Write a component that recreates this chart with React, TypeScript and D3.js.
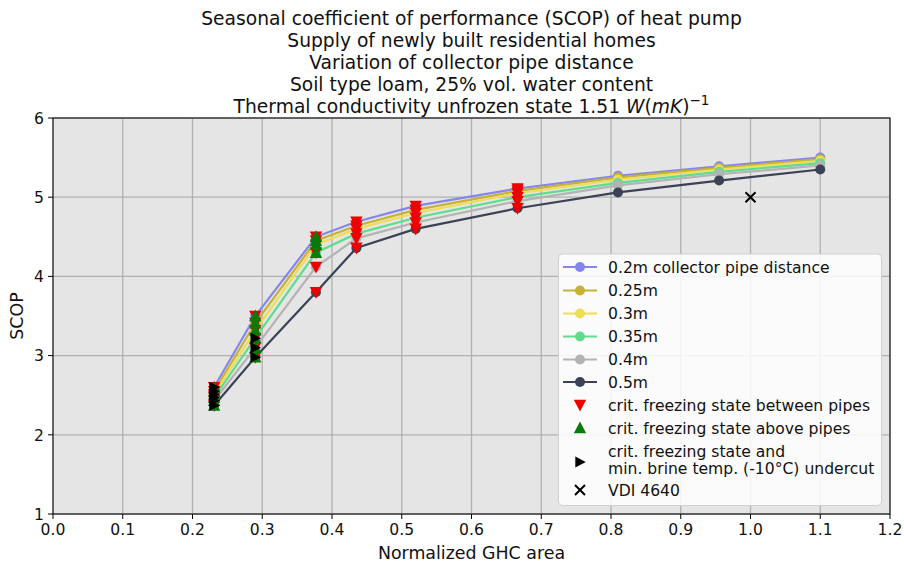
import React from "react";
import * as d3 from "d3";

const xValues = [0.231, 0.29, 0.377, 0.435, 0.52, 0.666, 0.81, 0.955, 1.1];
const seriesNames = ["0.2m collector pipe distance", "0.25m", "0.3m", "0.35m", "0.4m", "0.5m"];
const seriesColors = ["#8585ee", "#c6b234", "#eedd55", "#5fdc8e", "#b3b3b3", "#3b4256"];
const scop02 = [2.6, 3.5, 4.5, 4.69, 4.89, 5.11, 5.27, 5.39, 5.5];
const scop025 = [2.55, 3.41, 4.45, 4.64, 4.84, 5.08, 5.25, 5.37, 5.48];
const scop03 = [2.51, 3.32, 4.4, 4.6, 4.8, 5.05, 5.22, 5.35, 5.46];
const scop035 = [2.47, 3.22, 4.3, 4.54, 4.74, 5.0, 5.18, 5.32, 5.43];
const scop04 = [2.43, 3.1, 4.12, 4.48, 4.68, 4.95, 5.15, 5.29, 5.4];
const scop05 = [2.37, 2.98, 3.8, 4.36, 4.6, 4.86, 5.06, 5.21, 5.35];
const seriesValues = [scop02, scop025, scop03, scop035, scop04, scop05];
// indices (into xValues) where critical markers apply, per series
const critBetween = [
  [0, 1, 2, 3, 4, 5],
  [0, 1, 2, 3, 4, 5],
  [0, 1, 2, 3, 4, 5],
  [0, 1, 2, 3, 4, 5],
  [0, 1, 2, 3, 4, 5],
  [0, 1, 2, 3, 4, 5],
];
const critAbove = [[0, 1, 2], [0, 1, 2], [0, 1, 2], [0, 1, 2], [0, 1], [0, 1]];
const critBrine = [[0], [0], [0], [0, 1], [0, 1], [0, 1]];
const vdiX = [1.0];
const vdiY = [5.0];
const xTicks = [0, 0.1, 0.2, 0.3, 0.4, 0.5, 0.6, 0.7, 0.8, 0.9, 1.0, 1.1, 1.2];
const yTicks = [1, 2, 3, 4, 5, 6];
const titleLines = [
  "Seasonal coefficient of performance (SCOP) of heat pump",
  "Supply of newly built residential homes",
  "Variation of collector pipe distance",
  "Soil type loam, 25% vol. water content",
];

const W = 904, H = 565;
const left = 53, right = 890, top = 118, bottom = 514;
const font = "DejaVu Sans, sans-serif";

const triDown = (s: number) => `M${-s},${-s * 0.85}L${s},${-s * 0.85}L0,${s * 1.05}Z`;
const triUp = (s: number) => `M${-s},${s * 0.85}L${s},${s * 0.85}L0,${-s * 1.05}Z`;
const triRight = (s: number) => `M${-s * 0.85},${-s}L${-s * 0.85},${s}L${s * 1.05},0Z`;
const cross = (s: number) => `M${-s},${-s}L${s},${s}M${-s},${s}L${s},${-s}`;

export default function App() {
  const x = d3.scaleLinear().domain([0, 1.2]).range([left, right]);
  const y = d3.scaleLinear().domain([1, 6]).range([bottom, top]);
  const line = d3
    .line<[number, number]>()
    .x((d) => x(d[0]))
    .y((d) => y(d[1]));

  const legendRows = [267, 290.5, 313.5, 336.5, 359.5, 382, 405, 428];
  const lx = 580;
  const tx = 608;
  const fs = 15.6;

  return (
    <svg
      width={W}
      height={H}
      style={{ position: "absolute", left: 0, top: 0, background: "#fff" }}
      fontFamily={font}
    >
      {/* title */}
      <g textAnchor="middle" fontSize={18.7} fill="#111">
        {titleLines.map((t, i) => (
          <text key={i} x={(left + right) / 2} y={24.5 + i * 22}>
            {t}
          </text>
        ))}
        <text x={(left + right) / 2} y={24.5 + 4 * 22}>
          <tspan>Thermal conductivity unfrozen state 1.51 </tspan>
          <tspan fontStyle="italic">W</tspan>
          <tspan>(</tspan>
          <tspan fontStyle="italic">mK</tspan>
          <tspan>)</tspan>
          <tspan dy={-8} fontSize={13.5}>−1</tspan>
        </text>
      </g>

      {/* plot bg */}
      <rect x={left} y={top} width={right - left} height={bottom - top} fill="#e5e5e5" />
      {/* grid */}
      <g stroke="#b0b0b0" strokeWidth={1.3}>
        {xTicks.map((t) => (
          <line key={"gx" + t} x1={x(t)} x2={x(t)} y1={top} y2={bottom} />
        ))}
        {yTicks.map((t) => (
          <line key={"gy" + t} x1={left} x2={right} y1={y(t)} y2={y(t)} />
        ))}
      </g>

      {/* lines */}
      <g fill="none" strokeWidth={2.2}>
        {seriesValues.map((vals, si) => (
          <path
            key={"l" + si}
            d={line(xValues.map((xv, i) => [xv, vals[i]]) as [number, number][]) || ""}
            stroke={seriesColors[si]}
          />
        ))}
      </g>
      {/* circle markers */}
      <g>
        {seriesValues.map((vals, si) =>
          vals.map((v, i) => (
            <circle key={`c${si}-${i}`} cx={x(xValues[i])} cy={y(v)} r={5} fill={seriesColors[si]} />
          ))
        )}
      </g>
      {/* critical markers */}
      <g fill="#ee0000">
        {critBetween.map((idx, si) =>
          idx.map((i) => (
            <path
              key={`rb${si}-${i}`}
              d={triDown(6.2)}
              transform={`translate(${x(xValues[i])},${y(seriesValues[si][i])})`}
            />
          ))
        )}
      </g>
      <g fill="#0a7a0a">
        {critAbove.map((idx, si) =>
          idx.map((i) => (
            <path
              key={`ga${si}-${i}`}
              d={triUp(6.2)}
              transform={`translate(${x(xValues[i])},${y(seriesValues[si][i])})`}
            />
          ))
        )}
      </g>
      <g fill="#000">
        {critBrine.map((idx, si) =>
          idx.map((i) => (
            <path
              key={`br${si}-${i}`}
              d={triRight(5.5)}
              transform={`translate(${x(xValues[i])},${y(seriesValues[si][i])})`}
            />
          ))
        )}
      </g>
      {/* VDI */}
      <g stroke="#000" strokeWidth={2}>
        {vdiX.map((v, i) => (
          <path key={"v" + i} d={cross(5)} transform={`translate(${x(v)},${y(vdiY[i])})`} />
        ))}
      </g>

      {/* axes spines */}
      <rect x={left} y={top} width={right - left} height={bottom - top} fill="none" stroke="#000" strokeWidth={1} />
      {/* ticks */}
      <g stroke="#000" strokeWidth={1}>
        {xTicks.map((t) => (
          <line key={"tx" + t} x1={x(t)} x2={x(t)} y1={bottom} y2={bottom + 5} />
        ))}
        {yTicks.map((t) => (
          <line key={"ty" + t} x1={left - 5} x2={left} y1={y(t)} y2={y(t)} />
        ))}
      </g>
      <g fontSize={fs} fill="#111">
        {xTicks.map((t) => (
          <text key={"lx" + t} x={x(t)} y={bottom + 20.5} textAnchor="middle">
            {d3.format(".1f")(t)}
          </text>
        ))}
        {yTicks.map((t) => (
          <text key={"ly" + t} x={left - 9} y={y(t) + 5.7} textAnchor="end">
            {t}
          </text>
        ))}
      </g>
      <g fontSize={17.4} fill="#111">
        <text x={(left + right) / 2} y={559} textAnchor="middle">
          Normalized GHC area
        </text>
        <text transform={`translate(23,${(top + bottom) / 2}) rotate(-90)`} textAnchor="middle">
          SCOP
        </text>
      </g>

      {/* legend */}
      <rect x={558.5} y={254} width={323} height={251.5} rx={4} fill="#ffffff" fillOpacity={0.85} stroke="#cfcfcf" />
      <g fontSize={fs} fill="#111">
        {seriesNames.map((n, i) => (
          <g key={"lg" + i}>
            <line x1={lx - 17} x2={lx + 17} y1={legendRows[i]} y2={legendRows[i]} stroke={seriesColors[i]} strokeWidth={2.2} />
            <circle cx={lx} cy={legendRows[i]} r={5} fill={seriesColors[i]} />
            <text x={tx} y={legendRows[i] + 5.7}>{n}</text>
          </g>
        ))}
        <path d={triDown(6.2)} transform={`translate(${lx},${legendRows[6]})`} fill="#ee0000" />
        <text x={tx} y={legendRows[6] + 5.7}>crit. freezing state between pipes</text>
        <path d={triUp(6.2)} transform={`translate(${lx},${legendRows[7]})`} fill="#0a7a0a" />
        <text x={tx} y={legendRows[7] + 5.7}>crit. freezing state above pipes</text>
        <path d={triRight(5.5)} transform={`translate(${lx},462)`} fill="#000" />
        <text x={tx} y={451 + 5.7}>crit. freezing state and</text>
        <text x={tx} y={468 + 5.7}>min. brine temp. (-10°C) undercut</text>
        <path d={cross(5)} transform={`translate(${lx},490)`} stroke="#000" strokeWidth={2} fill="none" />
        <text x={tx} y={490 + 5.7}>VDI 4640</text>
      </g>
    </svg>
  );
}
